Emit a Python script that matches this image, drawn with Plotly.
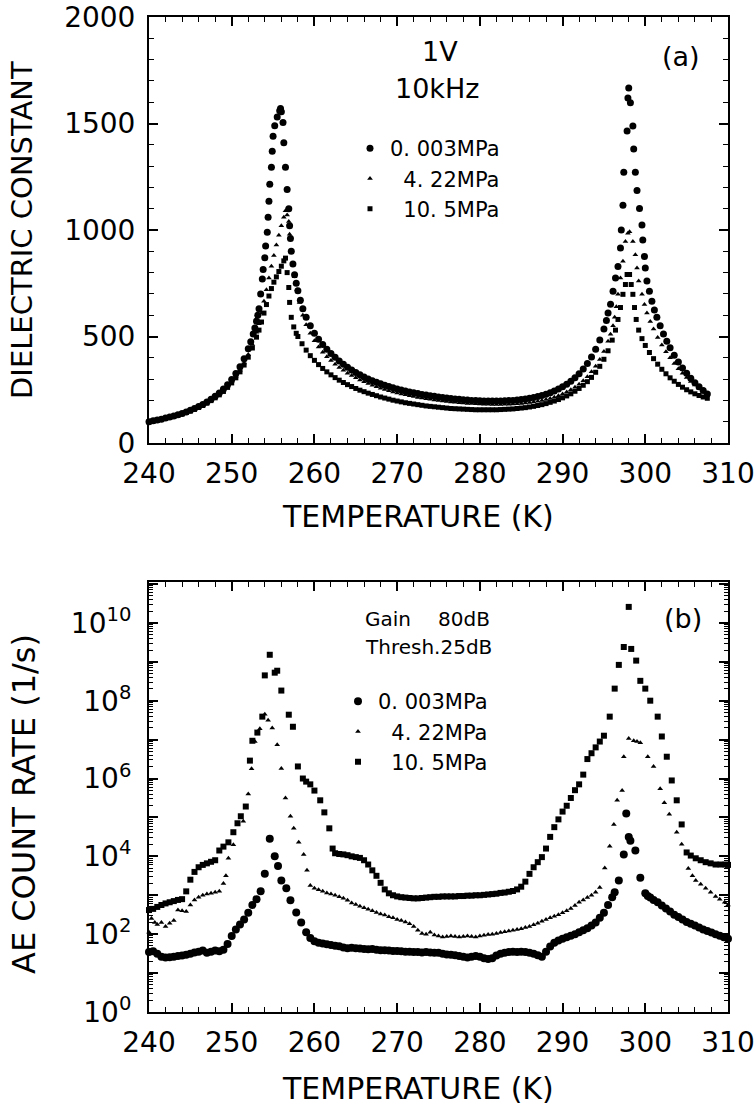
import plotly.graph_objects as go

# ---------------- (a) dielectric constant vs temperature ----------------
# (T [K], dielectric constant)
diel_003 = [(240,100),(240.5,104),(241,108),(241.5,112),(242,117),(242.5,122),(243,127),(243.5,133),(244,139),(244.5,146),
 (245,154),(245.5,162),(246,171),(246.5,181),(247,192),(247.5,205),(248,219),(248.5,235),(249,253),(249.5,274),
 (250,298),(250.5,326),(251,358),(251.5,396),(252,442),(252.3,475),(252.6,512),(252.8,540),(253.0,572),(253.15,600),
 (253.3,630),(253.5,700),(253.7,770),(253.8,815),(254.0,870),(254.1,925),(254.3,990),(254.4,1060),(254.5,1135),(254.6,1215),
 (254.8,1295),(254.9,1370),(255.0,1440),(255.2,1490),(255.5,1530),(255.8,1560),(255.9,1570),(256.0,1555),(256.2,1505),(256.3,1410),
 (256.5,1295),(256.7,1190),(256.9,1100),(257.0,1020),(257.1,960),(257.2,900),(257.4,840),(257.6,790),(257.8,750),(258.0,715),
 (258.3,670),(258.6,630),(259.0,590),(259.5,550),(260,515),(260.5,487),(261,462),(261.5,440),(262,420),(262.5,402),
 (263,385),(263.5,370),(264,356),(264.5,343),(265,331),(265.5,320),(266,310),(266.5,300),(267,292),(267.5,285),
 (268,278),(268.5,271),(269,265),(269.5,259),(270,254),(270.5,249),(271,244),(271.5,240),(272,236),(272.5,232),
 (273,228),(273.5,225),(274,222),(274.5,219),(275,216),(275.5,214),(276,211),(276.5,209),(277,207),(277.5,205),
 (278,203),(278.5,202),(279,200),(279.5,199),(280,198),(280.5,197),(281,197),(281.5,197),(282,197),(282.5,197),
 (283,198),(283.5,199),(284,200),(284.5,202),(285,204),(285.5,207),(286,210),(286.5,214),(287,218),(287.5,223),
 (288,229),(288.5,236),(289,244),(289.5,253),(290,264),(290.5,276),(291,290),(291.5,306),(292,325),(292.5,347),
 (293,373),(293.5,404),(294,440),(294.5,483),(295,535),(295.3,575),(295.5,610),(295.8,651),(296.1,713),(296.4,775),
 (296.7,829),(297.0,915),(297.1,1000),(297.3,1116),(297.4,1271),(297.8,1465),(297.9,1620),(298.0,1667),(298.2,1597),(298.5,1488),
 (298.6,1380),(298.8,1271),(299.0,1186),(299.3,1101),(299.6,1023),(299.7,953),(299.9,876),(300.0,822),(300.2,760),(300.5,713),
 (300.8,665),(301.1,625),(301.4,590),(301.8,550),(302.2,512),(302.6,478),(303,447),(303.5,412),(304,380),(304.5,352),
 (305,327),(305.5,304),(306,283),(306.5,264),(307,247),(307.5,230)]

diel_422 = [(240,99),(240.5,103),(241,107),(241.5,111),(242,116),(242.5,121),(243,126),(243.5,132),(244,138),(244.5,145),
 (245,152),(245.5,160),(246,169),(246.5,179),(247,190),(247.5,202),(248,215),(248.5,230),(249,247),(249.5,266),
 (250,288),(250.5,313),(251,342),(251.5,376),(252,416),(252.5,463),(253,520),(253.3,560),(253.6,610),(253.9,665),
 (254.2,720),(254.5,775),(254.8,830),(255.1,880),(255.4,930),(255.7,975),(256.0,1020),(256.3,1060),(256.5,1090),(256.7,1070),
 (256.9,1040),(257.0,980),(257.2,900),(257.4,840),(257.6,780),(257.9,720),(258.2,660),(258.6,600),(259.0,555),(259.5,515),
 (260,480),(260.5,451),(261,426),(261.5,405),(262,387),(262.5,370),(263,355),(263.5,341),(264,328),(264.5,317),
 (265,306),(265.5,296),(266,287),(266.5,279),(267,271),(267.5,264),(268,257),(268.5,251),(269,245),(269.5,240),
 (270,235),(270.5,230),(271,226),(271.5,222),(272,218),(272.5,214),(273,211),(273.5,208),(274,205),(274.5,202),
 (275,200),(275.5,197),(276,195),(276.5,193),(277,191),(277.5,189),(278,188),(278.5,186),(279,185),(279.5,184),
 (280,183),(280.5,182),(281,182),(281.5,181),(282,181),(282.5,181),(283,182),(283.5,182),(284,183),(284.5,184),
 (285,186),(285.5,188),(286,190),(286.5,193),(287,196),(287.5,200),(288,204),(288.5,209),(289,215),(289.5,222),
 (290,230),(290.5,239),(291,250),(291.5,262),(292,276),(292.5,292),(293,311),(293.5,334),(294,360),(294.5,392),
 (295,430),(295.5,478),(295.8,510),(296.1,550),(296.3,590),(296.5,640),(296.7,698),(297.0,775),(297.3,853),(297.6,946),
 (297.9,985),(298.1,992),(298.5,946),(298.8,884),(299.0,822),(299.2,760),(299.6,698),(299.9,650),(300.2,610),(300.6,570),
 (301,535),(301.5,495),(302,460),(302.5,428),(303,400),(303.5,373),(304,349),(304.5,327),(305,307),(305.5,289),
 (306,272),(306.5,257),(307,243),(307.5,230)]

diel_105 = [(240,99),(240.5,103),(241,107),(241.5,111),(242,115),(242.5,120),(243,125),(243.5,131),(244,137),(244.5,143),
 (245,150),(245.5,158),(246,167),(246.5,176),(247,187),(247.5,199),(248,212),(248.5,226),(249,242),(249.5,261),
 (250,282),(250.5,306),(251,334),(251.5,366),(252,403),(252.5,446),(253,497),(253.3,530),(253.6,568),(253.9,610),
 (254.2,650),(254.5,690),(254.8,725),(255.1,755),(255.4,780),(255.7,805),(256.0,830),(256.3,855),(256.5,868),(256.7,800),
 (256.9,730),(257.0,660),(257.2,590),(257.5,545),(257.8,515),(258,500),(258.5,466),(259,436),(259.5,410),(260,388),
 (260.5,368),(261,350),(261.5,334),(262,320),(262.5,307),(263,295),(263.5,284),(264,274),(264.5,265),(265,256),
 (265.5,248),(266,241),(266.5,234),(267,228),(267.5,222),(268,216),(268.5,211),(269,206),(269.5,201),(270,197),
 (270.5,193),(271,189),(271.5,186),(272,183),(272.5,180),(273,177),(273.5,174),(274,172),(274.5,170),(275,168),
 (275.5,166),(276,164),(276.5,162),(277,161),(277.5,160),(278,159),(278.5,158),(279,157),(279.5,156),(280,156),
 (280.5,156),(281,156),(281.5,156),(282,156),(282.5,157),(283,158),(283.5,159),(284,160),(284.5,162),(285,164),
 (285.5,166),(286,169),(286.5,172),(287,176),(287.5,180),(288,185),(288.5,191),(289,197),(289.5,204),(290,212),
 (290.5,221),(291,231),(291.5,243),(292,256),(292.5,271),(293,288),(293.5,308),(294,332),(294.5,360),(295,393),
 (295.5,433),(296,483),(296.4,530),(296.7,580),(297.0,636),(297.3,698),(297.6,744),(297.8,791),(298.1,791),(298.3,744),
 (298.5,698),(298.7,636),(298.9,580),(299.2,530),(299.6,490),(300,458),(300.5,425),(301,396),(301.5,370),(302,346),
 (302.5,325),(303,306),(303.5,290),(304,275),(304.5,262),(305,250),(305.5,240),(306,231),(306.5,223),(307,216),
 (307.5,210)]

# ---------------- (b) AE count rate (log10 of 1/s) vs temperature ----------------
ae_003 = [(240,1.54),(240.5,1.56),(241,1.50),(241.5,1.42),(242,1.40),(242.5,1.41),(243,1.42),(243.5,1.44),(244,1.45),(244.5,1.47),
 (245,1.50),(245.5,1.53),(246,1.55),(246.5,1.58),(247,1.52),(247.5,1.55),(248,1.58),(248.5,1.56),(249,1.60),(249.5,1.75),
 (250,1.95),(250.5,2.12),(251,2.25),(251.5,2.38),(252,2.55),(252.5,2.75),(253,2.90),(253.5,3.10),(254,3.55),(254.6,4.45),
 (255.2,4.00),(255.6,3.75),(256.0,3.38),(256.6,3.18),(257.1,2.87),(257.8,2.56),(258.4,2.30),(259.0,2.05),(259.5,1.90),(260,1.82),
 (260.5,1.78),(261,1.76),(261.5,1.74),(262,1.72),(262.5,1.70),(263,1.69),(263.5,1.66),(264,1.64),(264.5,1.65),(265,1.64),
 (265.5,1.63),(266,1.62),(266.5,1.61),(267,1.62),(267.5,1.60),(268,1.59),(268.5,1.59),(269,1.58),(269.5,1.57),(270,1.57),
 (270.5,1.56),(271,1.55),(271.5,1.55),(272,1.54),(272.5,1.54),(273,1.53),(273.5,1.54),(274,1.53),(274.5,1.52),(275,1.52),
 (275.5,1.50),(276,1.48),(276.5,1.47),(277,1.46),(277.5,1.44),(278,1.42),(278.5,1.40),(279,1.42),(279.5,1.44),(280,1.42),
 (280.5,1.38),(281,1.36),(281.5,1.38),(282,1.45),(282.5,1.50),(283,1.52),(283.5,1.54),(284,1.55),(284.5,1.54),(285,1.55),
 (285.5,1.54),(286,1.52),(286.5,1.50),(287,1.46),(287.5,1.42),(288,1.55),(288.5,1.68),(289,1.78),(289.5,1.84),(290,1.88),
 (290.5,1.92),(291,1.96),(291.5,2.00),(292,2.05),(292.5,2.10),(293,2.15),(293.5,2.22),(294,2.30),(294.5,2.42),(295,2.55),
 (295.5,2.75),(296,2.95),(296.3,3.08),(296.8,3.38),(297.4,4.05),(297.7,5.10),(298.0,4.50),(298.2,4.40),(298.8,4.15),(299.4,3.45),
 (300.0,3.05),(300.3,2.98),(300.6,2.94),(301,2.88),(301.5,2.82),(302,2.74),(302.5,2.66),(303,2.58),(303.5,2.50),(304,2.44),
 (304.5,2.38),(305,2.31),(305.5,2.27),(306,2.22),(306.5,2.17),(307,2.12),(307.5,2.08),(308,2.04),(308.5,2.00),(309,1.96),
 (309.5,1.92),(310,1.88)]

ae_422 = [(240,2.05),(240.3,2.40),(240.7,2.30),(241,2.25),(241.5,2.30),(242,2.20),(242.5,2.28),(243,2.35),(243.5,2.62),(244,2.60),
 (244.5,2.58),(245,2.75),(245.5,2.88),(246,2.95),(246.5,3.00),(247,3.03),(247.5,3.05),(248,3.08),(248.5,3.10),(249,3.30),
 (249.3,3.50),(249.6,3.95),(250.2,4.30),(251.4,4.90),(252,5.60),(252.4,6.25),(252.8,6.95),(253.4,7.28),(254,7.65),(254.4,7.50),
 (254.9,7.30),(255.5,6.87),(256,6.26),(256.5,5.50),(257.1,5.03),(257.5,4.72),(258.1,4.36),(258.7,4.05),(259.1,3.64),(259.5,3.25),
 (260,3.18),(260.5,3.14),(261,3.10),(261.5,3.06),(262,3.03),(262.5,3.00),(263,2.96),(263.5,2.92),(264,2.87),(264.5,2.80),
 (265,2.76),(265.5,2.72),(266,2.68),(266.5,2.64),(267,2.60),(267.5,2.56),(268,2.52),(268.5,2.49),(269,2.45),(269.5,2.42),
 (270,2.38),(270.5,2.35),(271,2.31),(271.5,2.27),(272,2.20),(272.5,2.10),(273,2.02),(273.5,2.00),(274,2.05),(274.5,1.98),
 (275,1.95),(275.5,1.93),(276,1.94),(276.5,1.95),(277,1.94),(277.5,1.93),(278,1.94),(278.5,1.95),(279,1.94),(279.5,1.93),
 (280,1.95),(280.5,1.97),(281,1.99),(281.5,2.00),(282,2.02),(282.5,2.04),(283,2.06),(283.5,2.08),(284,2.10),(284.5,2.12),
 (285,2.14),(285.5,2.17),(286,2.20),(286.5,2.24),(287,2.28),(287.5,2.33),(288,2.38),(288.5,2.42),(289,2.46),(289.5,2.50),
 (290,2.55),(290.5,2.60),(291,2.66),(291.5,2.74),(292,2.82),(292.5,2.88),(293,2.94),(293.5,3.00),(294,3.08),(294.5,3.20),
 (295.1,3.70),(295.7,4.26),(296.2,4.82),(296.6,5.44),(297.2,5.69),(297.4,6.56),(298.0,7.03),(298.6,6.97),(299.0,6.95),(299.4,6.92),
 (300.3,6.56),(301.0,6.31),(301.8,5.74),(302.3,5.38),(302.9,5.08),(303.8,4.62),(304.4,4.31),(305.2,3.69),(305.7,3.50),(306.1,3.38),
 (306.7,3.28),(307.3,3.18),(307.9,3.08),(308.5,2.97),(309,2.90),(309.6,2.82),(310,2.75)]

ae_105 = [(240,2.62),(240.5,2.65),(241,2.70),(241.5,2.75),(242,2.79),(242.5,2.82),(243,2.85),(243.5,2.88),(244,2.90),(244.5,3.10),
 (245,3.40),(245.5,3.60),(246,3.72),(246.5,3.78),(247,3.82),(247.5,3.86),(248,3.90),(248.5,4.15),(249,4.25),(249.6,4.36),
 (250.2,4.62),(250.7,4.85),(251.1,5.03),(251.7,5.28),(252.2,6.46),(252.5,6.97),(253.1,7.18),(253.7,7.59),(254.0,8.65),(254.6,9.18),
 (255.2,8.72),(255.5,8.77),(256.0,8.26),(256.9,7.64),(257.4,7.33),(258.0,6.31),(258.6,6.00),(259.0,5.92),(259.5,5.85),(260,5.69),
 (260.7,5.44),(261.2,5.13),(261.8,4.72),(262.2,4.20),(262.5,4.08),(263,4.06),(263.5,4.05),(264,4.03),(264.5,4.00),(265,3.98),
 (265.5,3.96),(266,3.90),(266.5,3.79),(267,3.64),(267.5,3.50),(268,3.32),(268.5,3.15),(269,3.05),(269.5,3.00),(270,2.97),
 (270.5,2.95),(271,2.94),(271.5,2.93),(272,2.92),(272.5,2.92),(273,2.93),(273.5,2.94),(274,2.95),(274.5,2.96),(275,2.96),
 (275.5,2.97),(276,2.97),(276.5,2.97),(277,2.97),(277.5,2.98),(278,2.98),(278.5,2.99),(279,2.99),(279.5,3.00),(280,3.00),
 (280.5,3.01),(281,3.02),(281.5,3.03),(282,3.04),(282.5,3.06),(283,3.07),(283.5,3.09),(284,3.11),(284.5,3.15),(285,3.22),
 (285.5,3.35),(286,3.55),(286.5,3.72),(287,3.85),(287.5,3.98),(288,4.20),(288.5,4.50),(289,4.75),(289.5,4.95),(290,5.15),
 (290.5,5.30),(291,5.50),(291.5,5.70),(292,5.85),(292.5,6.10),(293,6.50),(293.5,6.65),(294,6.80),(294.5,6.95),(295,7.10),
 (295.7,7.59),(296.3,8.31),(296.8,8.92),(297.4,9.38),(298.0,10.41),(298.3,9.33),(298.9,9.03),(299.4,8.51),(300.0,8.31),(300.6,8.00),
 (301.5,7.59),(302.0,7.08),(302.6,6.56),(303.2,5.95),(303.8,5.44),(304.4,4.82),(305.0,4.10),(305.5,4.02),(306.1,3.95),(306.7,3.90),
 (307.3,3.85),(307.9,3.82),(308.5,3.79),(309.1,3.79),(309.7,3.79),(310,3.78)]

series_names = ["0. 003MPa", "\u00a0\u00a04. 22MPa", "\u00a0\u00a010. 5MPa"]
symbols = ["circle", "triangle-up", "square"]
size_a = [7, 5, 5]
size_b = [8, 5, 6]

x_ticks = [240, 250, 260, 270, 280, 290, 300, 310]
y_ticks_a = [0, 500, 1000, 1500, 2000]
decades_b = list(range(0, 12))

FONT = "DejaVu Sans, Verdana, sans-serif"

fig = go.Figure()

for data, name, sym, sz in zip([diel_003, diel_422, diel_105], series_names, symbols, size_a):
    fig.add_trace(go.Scatter(
        x=[p[0] for p in data], y=[p[1] for p in data], mode="markers", name=name,
        marker=dict(symbol=sym, size=sz, color="black", line=dict(width=0)),
        xaxis="x", yaxis="y", legend="legend", cliponaxis=False))

for data, name, sym, sz in zip([ae_003, ae_422, ae_105], series_names, symbols, size_b):
    fig.add_trace(go.Scatter(
        x=[p[0] for p in data], y=[10 ** p[1] for p in data], mode="markers", name=name,
        marker=dict(symbol=sym, size=sz, color="black", line=dict(width=0)),
        xaxis="x2", yaxis="y2", legend="legend2", cliponaxis=False))

W, H = 756, 1106
def px(xp):
    return xp / W
def py(yp):
    return 1 - yp / H

axis_common = dict(showgrid=False, zeroline=False, showline=True, linecolor="black", linewidth=2,
                   mirror="ticks", ticks="inside", tickcolor="black", tickwidth=1.5, ticklen=9,
                   automargin=False, ticklabeloverflow="allow",
                   tickfont=dict(family=FONT, size=28, color="black"))

xdom = [px(149), px(728)]
fig.update_layout(
    template="none",
    width=W, height=H, margin=dict(l=0, r=0, t=0, b=0, autoexpand=False),
    paper_bgcolor="white", plot_bgcolor="white", showlegend=True,
    xaxis=dict(domain=xdom, anchor="y", range=[240, 310], tickvals=x_ticks, ticklabelstandoff=4,
               minor=dict(dtick=2, tick0=240, ticks="inside", ticklen=5, tickcolor="black", tickwidth=1.2),
               **axis_common),
    yaxis=dict(domain=[py(443), py(17)], anchor="x", range=[0, 2000], tickvals=y_ticks_a, ticklabelstandoff=6,
               minor=dict(dtick=100, tick0=0, ticks="inside", ticklen=5, tickcolor="black", tickwidth=1.2),
               **axis_common),
    xaxis2=dict(domain=xdom, anchor="y2", range=[240, 310], tickvals=x_ticks, ticklabelstandoff=4,
                minor=dict(dtick=2, tick0=240, ticks="inside", ticklen=5, tickcolor="black", tickwidth=1.2),
                **axis_common),
    yaxis2=dict(domain=[py(1012), py(582)], anchor="x2", type="log", range=[0, 11.05], ticklabelstandoff=10,
                tickvals=[10 ** d for d in decades_b],
                ticktext=[("10<sup>%d</sup>" % d) if d % 2 == 0 else "" for d in decades_b],
                minor=dict(dtick="D1", ticks="inside", ticklen=4, tickcolor="black", tickwidth=1),
                **axis_common),
    legend=dict(x=px(350), y=py(128), xanchor="left", yanchor="top", bgcolor="rgba(0,0,0,0)",
                font=dict(family=FONT, size=21, color="black"), itemsizing="trace",
                tracegroupgap=0),
    legend2=dict(x=px(338), y=py(681), xanchor="left", yanchor="top", bgcolor="rgba(0,0,0,0)",
                 font=dict(family=FONT, size=21, color="black"), itemsizing="trace",
                 tracegroupgap=0),
)

ann = []
def add_text(text, x, y, size, angle=0, xanchor="center"):
    ann.append(dict(text=text, x=px(x), y=py(y), xref="paper", yref="paper", showarrow=False,
                    textangle=angle, xanchor=xanchor, yanchor="middle",
                    font=dict(family=FONT, size=size, color="black")))

add_text("DIELECTRIC CONSTANT", 22, 230, 29, angle=-90)
add_text("AE COUNT RATE (1/s)", 24, 804, 32, angle=-90)
add_text("TEMPERATURE (K)", 418, 517, 30)
add_text("TEMPERATURE (K)", 418, 1088, 30)
add_text("1V", 440, 52, 27)
add_text("10kHz", 437, 89, 27)
add_text("(a)", 681, 56, 27)
add_text("(b)", 683, 618, 27)
add_text("Gain", 363, 619, 20, xanchor="left")
add_text("80dB", 492, 619, 20, xanchor="right")
add_text("Thresh.25dB", 363, 647, 20, xanchor="left")
fig.update_layout(annotations=ann)

fig.write_html("out.html", config={"displayModeBar": False},
               post_script="document.body.style.margin='0px';")
